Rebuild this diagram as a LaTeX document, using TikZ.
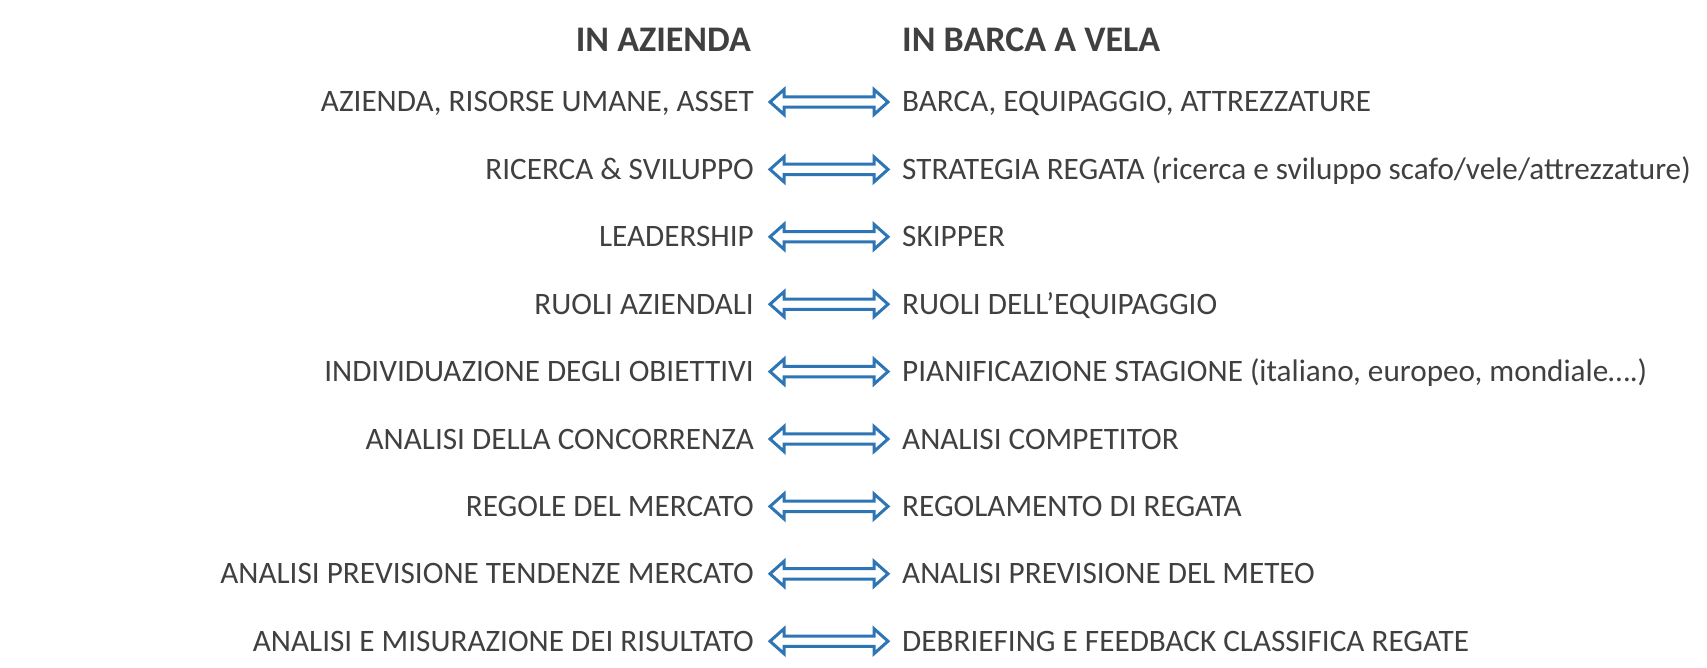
\documentclass[tikz,border=0pt]{standalone}
\usepackage{fontspec}
\setmainfont{Carlito}
\usetikzlibrary{calc}
\definecolor{txt}{HTML}{404040}
\definecolor{arrblue}{HTML}{2E75B6}
\tikzset{
  lefttext/.style={anchor=base east,inner sep=0pt,text=txt,font=\fontsize{31.2}{36}\selectfont},
  righttext/.style={anchor=base west,inner sep=0pt,text=txt,font=\fontsize{31.2}{36}\selectfont},
  headtext/.style={inner sep=0pt,text=txt,font=\fontsize{36}{42}\selectfont\bfseries},
  dblarr/.style={draw=arrblue,line width=3pt,fill=white,line join=miter}
}
\begin{document}
\begin{tikzpicture}[x=1pt,y=-1pt]
\fill[white] (0,0) rectangle (1707,668);
\useasboundingbox (0,0) rectangle (1707,668);
\node[headtext,anchor=base east] (HL) at (751,51.5) {IN AZIENDA};
\node[headtext,anchor=base west] (HR) at (902,51.5) {IN BARCA A VELA};
\foreach \i/\yy/\lt/\rt in {
  1/102/{AZIENDA, RISORSE UMANE, ASSET}/{BARCA, EQUIPAGGIO, ATTREZZATURE},
  2/169.4/{RICERCA \& SVILUPPO}/{STRATEGIA REGATA (ricerca e sviluppo scafo/vele/attrezzature)},
  3/236.8/{LEADERSHIP}/{SKIPPER},
  4/304.2/{RUOLI AZIENDALI}/{RUOLI DELL’EQUIPAGGIO},
  5/371.6/{INDIVIDUAZIONE DEGLI OBIETTIVI}/{PIANIFICAZIONE STAGIONE (italiano, europeo, mondiale….)},
  6/439/{ANALISI DELLA CONCORRENZA}/{ANALISI COMPETITOR},
  7/506.4/{REGOLE DEL MERCATO}/{REGOLAMENTO DI REGATA},
  8/573.8/{ANALISI PREVISIONE TENDENZE MERCATO}/{ANALISI PREVISIONE DEL METEO},
  9/641.2/{ANALISI E MISURAZIONE DEI RISULTATO}/{DEBRIEFING E FEEDBACK CLASSIFICA REGATE}}
{
  \node[lefttext] (L\i) at (754,\yy+10) {\lt};
  \node[righttext] (R\i) at (902,\yy+10) {\rt};
  \draw[dblarr] let \p1=($(L\i.base east)+(16,-10)$), \p2=($(R\i.base west)+(-14,-10)$) in
    (\x1,\y1) -- (\x1+14pt,\y1+12.5pt) -- (\x1+14pt,\y1+5.2pt) -- (\x2-14pt,\y1+5.2pt)
    -- (\x2-14pt,\y1+12.5pt) -- (\x2,\y1) -- (\x2-14pt,\y1-12.5pt) -- (\x2-14pt,\y1-5.2pt)
    -- (\x1+14pt,\y1-5.2pt) -- (\x1+14pt,\y1-12.5pt) -- cycle;
}
\end{tikzpicture}
\end{document}
